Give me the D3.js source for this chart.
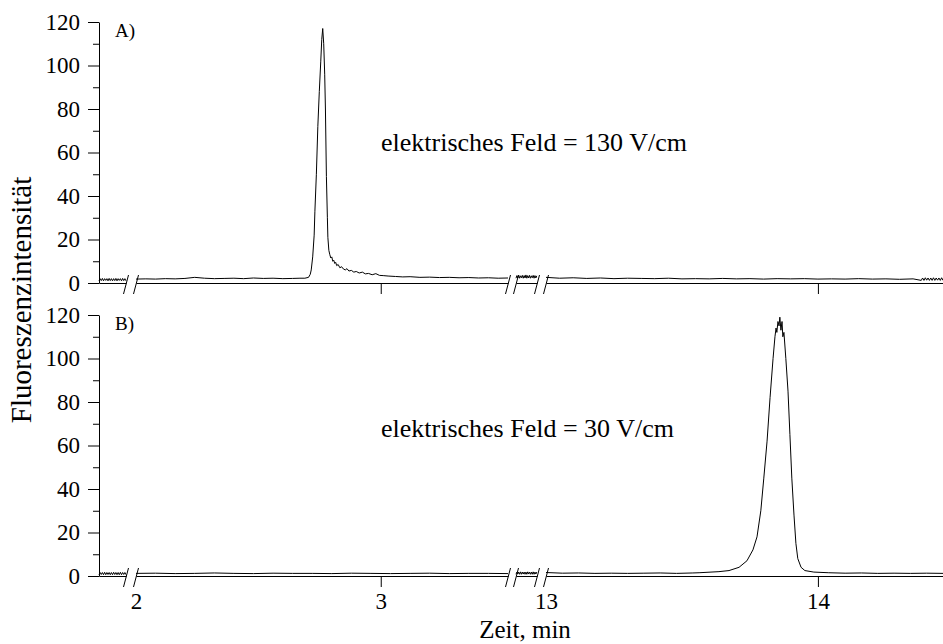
<!DOCTYPE html>
<html>
<head>
<meta charset="utf-8">
<script src="https://cdn.jsdelivr.net/npm/d3@7"></script>
<style>
  body { margin: 0; background: #fff; }
  text { font-family: "Liberation Serif", "Times New Roman", serif; fill: #000; }
  .tick text { font-size: 23px; }
  .domain, .tick line { stroke: #000; }
</style>
</head>
<body>
<svg id="chart" width="943" height="644"></svg>
<script>
// ---- data ----
const yTicks = [0, 20, 40, 60, 80, 100, 120]
const yMinor = [10, 30, 50, 70, 90, 110]
const xTicks = [2, 3, 13, 14]
// broken time axis: each piece has its own domain
const segDomains = [[1.5, 1.98], [2.0, 3.52], [3.6, 12.9], [13.0, 14.46]]

// A) 130 V/cm
const topTime = [
  1.50,1.52,1.54,1.56,1.58,1.60,1.62,1.64,1.66,1.68,1.70,1.72,1.74,1.76,1.78,1.80,1.82,1.84,1.86,1.88,1.90,1.92,1.94,1.96,1.98,
  2.00,2.04,2.08,2.12,2.16,2.20,2.24,2.28,2.32,2.36,2.40,2.44,2.48,2.52,2.56,2.60,2.64,2.67,
  2.690,2.705,2.712,2.716,2.722,2.728,2.731,2.737,2.743,2.749,2.755,2.759,2.763,2.767,2.771,2.774,2.778,2.782,2.784,2.788,
  2.792,2.796,2.800,2.804,2.808,2.812,2.816,2.820,2.826,2.833,2.840,2.847,2.855,2.862,2.870,2.880,2.890,2.900,2.912,2.925,
  2.937,2.950,2.965,2.980,2.995,3.010,3.03,3.06,3.09,3.12,3.16,3.20,3.24,3.28,3.32,3.36,3.40,3.44,3.48,3.52,
  3.6,4.0,4.4,4.8,5.2,5.6,6.0,6.4,6.8,7.2,7.6,8.0,8.4,8.8,9.2,9.6,10.0,10.4,10.8,11.2,11.6,12.0,12.4,12.8,
  13.00,13.05,13.10,13.15,13.20,13.25,13.30,13.35,13.40,13.45,13.50,13.55,13.60,13.65,13.70,13.75,13.80,13.85,13.90,13.95,
  14.00,14.05,14.10,14.15,14.20,14.25,14.30,14.35,
  14.380,14.385,14.390,14.395,14.400,14.405,14.410,14.415,14.420,14.425,14.430,14.435,14.440,14.445,14.450,14.455,14.460
]
const topValue = [
  1.0,2.0,1.1,2.1,1.0,2.0,1.2,2.0,1.0,2.1,1.1,2.0,1.0,2.0,1.1,2.1,1.0,2.0,1.2,2.0,1.0,2.1,1.1,2.0,1.0,
  1.8,1.9,1.8,2.0,1.9,2.1,2.6,2.2,2.0,2.1,2.2,2.0,2.3,2.1,2.2,2.0,2.1,2.2,
  2.2,2.6,4,6,12,22,33,50,72,88,102,112,117,110,96,80,49,30,21,15,
  13,11.5,12,10,10.5,9,9.5,8,8.5,7,7.5,6.5,6,6.6,5.5,5.8,5,5.3,4.6,5,
  4.2,4.4,3.8,4.3,3.5,3.4,3.2,3.0,2.8,2.9,2.6,2.7,2.5,2.6,2.4,2.5,2.3,2.4,2.2,2.3,
  2.2,3.4,2.3,3.6,2.2,3.3,2.4,3.5,2.2,3.4,2.3,3.7,2.2,3.4,2.3,3.5,2.2,3.3,2.4,3.5,2.2,3.4,2.3,3.3,
  2.6,2.2,2.4,2.1,2.3,2.0,2.2,2.1,2.0,2.2,1.9,2.0,1.9,2.1,1.9,2.0,1.8,2.0,1.9,2.0,
  1.8,1.9,1.8,2.0,1.8,1.9,1.7,1.9,
  1.2,2.3,1.2,2.4,1.3,2.3,1.2,2.3,1.2,2.4,1.2,2.3,1.3,2.3,1.2,2.4,1.2
]

// B) 30 V/cm
const bottomTime = [
  1.50,1.52,1.54,1.56,1.58,1.60,1.62,1.64,1.66,1.68,1.70,1.72,1.74,1.76,1.78,1.80,1.82,1.84,1.86,1.88,1.90,1.92,1.94,1.96,1.98,
  2.00,2.08,2.16,2.24,2.32,2.40,2.48,2.56,2.64,2.72,2.80,2.88,2.96,3.04,3.12,3.20,3.28,3.36,3.44,3.52,
  3.6,4.0,4.4,4.8,5.2,5.6,6.0,6.4,6.8,7.2,7.6,8.0,8.4,8.8,9.2,9.6,10.0,10.4,10.8,11.2,11.6,12.0,12.4,12.8,
  13.00,13.06,13.12,13.18,13.24,13.30,13.36,13.42,13.48,13.54,
  13.563,13.636,13.673,13.710,13.739,13.761,13.776,13.790,13.801,13.813,13.824,13.835,13.842,13.846,13.849,13.853,
  13.857,13.860,13.864,13.868,13.871,13.875,13.882,13.890,13.897,13.904,13.912,13.919,13.926,13.938,13.952,13.985,
  14.040,14.10,14.16,14.22,14.28,14.34,14.40,14.46
]
const bottomValue = [
  0.6,1.6,0.7,1.6,0.6,1.7,0.6,1.6,0.7,1.6,0.6,1.6,0.6,1.7,0.7,1.6,0.6,1.6,0.6,1.7,0.6,1.6,0.7,1.6,0.6,
  1.2,1.3,1.1,1.2,1.4,1.2,1.1,1.3,1.2,1.2,1.1,1.3,1.2,1.1,1.2,1.3,1.1,1.2,1.2,1.1,
  0.8,1.8,0.9,1.8,0.8,1.9,0.8,1.8,0.9,1.8,0.8,1.8,0.8,1.9,0.9,1.8,0.8,1.8,0.8,1.9,0.8,1.8,0.9,1.8,
  1.6,1.3,1.4,1.2,1.3,1.2,1.3,1.4,1.2,1.4,
  1.5,2,2.5,4,7,12,18,30,45,62,82,100,110,114,112,117,
  115,119,113,117,110,112,100,85,65,45,28,15,8,4,2.5,1.8,
  1.5,1.3,1.4,1.2,1.3,1.2,1.3,1.2
]

// ---- layout ----
const svg = d3.select('#chart')
const axisX = 99
const segRanges = [[99, 126], [136, 508], [516, 537], [546, 943]]

function drawPanel(top, bottom, time, value, tag, note, noteY, showLabels){
    const y = d3.scaleLinear().domain([0, 120]).range([bottom, top])
    const g = svg.append('g')

    g.append('g')
        .attr('transform', `translate(${axisX}, 0)`)
        .call(d3.axisLeft(y).tickValues(yTicks).tickSize(11).tickPadding(8).tickSizeOuter(0))

    g.append('g')
        .attr('transform', `translate(${axisX}, 0)`)
        .call(d3.axisLeft(y).tickValues(yMinor).tickSize(6).tickFormat('').tickSizeOuter(0))
        .select('.domain').remove()

    segDomains.forEach((dom, i) => {
        const x = d3.scaleLinear().domain(dom).range(segRanges[i])
        const ticks = xTicks.filter(t => t >= dom[0] && t <= dom[1])
        const ax = d3.axisBottom(x).tickValues(ticks).tickSize(11).tickPadding(6)
            .tickSizeOuter(0).tickFormat(d3.format('d'))
        if (!showLabels) ax.tickFormat('')
        const axg = g.append('g')
            .attr('transform', `translate(0, ${bottom})`)
            .call(ax)
        // no tick line at the start of a piece, the break covers it
        axg.selectAll('.tick line').filter(d => d == dom[0]).remove()

        const pts = time.map((t, j) => ({t: t, v: value[j]}))
            .filter(d => d.t >= dom[0] && d.t <= dom[1])
        g.append('path')
            .datum(pts)
            .attr('fill', 'none')
            .attr('stroke', '#000')
            .attr('stroke-width', 1)
            .attr('d', d3.line()
                .x(d => x(d.t))
                .y(d => y(d.v)))
    })

    // break marks
    for (let i = 0; i < segRanges.length - 1; i++){
        [segRanges[i][1], segRanges[i+1][0]].forEach(bx => {
            g.append('line')
                .attr('x1', bx - 2.5).attr('y1', bottom + 11)
                .attr('x2', bx + 2.5).attr('y2', bottom - 8)
                .attr('stroke', '#000')
                .attr('stroke-width', 1)
        })
    }

    g.append('text')
        .attr('x', 115).attr('y', top + 15)
        .attr('font-size', 19)
        .text(tag)

    g.append('text')
        .attr('x', 381).attr('y', noteY)
        .attr('font-size', 26)
        .text(note)
}

drawPanel(22, 283, topTime, topValue, 'A)', 'elektrisches Feld = 130 V/cm', 151, false)
drawPanel(315, 576, bottomTime, bottomValue, 'B)', 'elektrisches Feld = 30 V/cm', 437, true)

svg.append('text')
    .attr('transform', 'translate(31, 300) rotate(-90)')
    .attr('text-anchor', 'middle')
    .attr('font-size', 29)
    .text('Fluoreszenzintensität')

svg.append('text')
    .attr('x', 525).attr('y', 638)
    .attr('text-anchor', 'middle')
    .attr('font-size', 25)
    .text('Zeit, min')
</script>
</body>
</html>
